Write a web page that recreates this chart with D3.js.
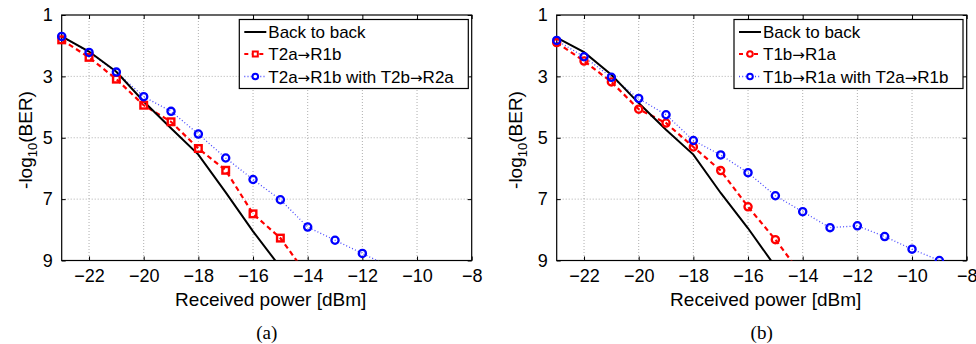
<!DOCTYPE html>
<html><head><meta charset="utf-8">
<script src="https://cdn.jsdelivr.net/npm/d3@7"></script>
<style>
html,body{margin:0;padding:0;background:#fff;}
svg{display:block;}
</style></head>
<body>
<svg id="chart" width="976" height="344" font-family="Liberation Sans, Arial, Helvetica, sans-serif"></svg>
<script>
// ---- data ----
const xTicks = [-22, -20, -18, -16, -14, -12, -10, -8];
const yTicks = [1, 3, 5, 7, 9];

// panel (a)
const powerA_b2b  = [-23, -22, -21, -20, -19, -18, -17, -16, -15];
const berA_b2b    = [1.70, 2.19, 2.85, 3.82, 4.69, 5.55, 6.78, 8.05, 9.22];
const powerA_red  = [-23, -22, -21, -20, -19, -18, -17, -16, -15, -14];
const berA_red    = [1.81, 2.38, 3.09, 3.94, 4.48, 5.35, 6.06, 7.48, 8.27, 9.50];
const powerA_blue = [-23, -22, -21, -20, -19, -18, -17, -16, -15, -14, -13, -12, -11];
const berA_blue   = [1.70, 2.22, 2.86, 3.66, 4.14, 4.88, 5.66, 6.36, 7.02, 7.91, 8.34, 8.77, 9.20];
const legendA = [["Back to back"], ["T2a", "R1b"], ["T2a", "R1b with T2b", "R2a"]];

// panel (b)
const powerB_b2b  = [-23, -22, -21, -20, -19, -18, -17, -16, -15];
const berB_b2b    = [1.74, 2.21, 2.95, 3.87, 4.74, 5.55, 6.80, 7.95, 9.20];
const powerB_red  = [-23, -22, -21, -20, -19, -18, -17, -16, -15, -14];
const berB_red    = [1.90, 2.50, 3.18, 4.07, 4.52, 5.30, 6.07, 7.25, 8.32, 9.51];
const powerB_blue = [-23, -22, -21, -20, -19, -18, -17, -16, -15, -14, -13, -12, -11, -10, -9];
const berB_blue   = [1.83, 2.36, 3.03, 3.72, 4.25, 5.09, 5.56, 6.14, 6.89, 7.41, 7.93, 7.87, 8.22, 8.63, 9.00];
const legendB = [["Back to back"], ["T1b", "R1a"], ["T1b", "R1a with T2a", "R1b"]];

const svg = d3.select("#chart");
const defs = svg.append("defs");

function zip(xs, ys){ return xs.map((x,i)=>({x:x, y:ys[i]})); }

function panel(cfg){
  const L = cfg.left, T = 15, W = 410, H = 245.5;
  const x = d3.scaleLinear().domain([-23, -8]).range([L, L+W]);
  const y = d3.scaleLinear().domain([1, 9]).range([T, T+H]);
  const g = svg.append("g");
  const clipId = "clip" + cfg.id;
  defs.append("clipPath").attr("id", clipId)
    .append("rect").attr("x", L-6).attr("y", T-6).attr("width", W+12).attr("height", H+6);
  defs.append("clipPath").attr("id", clipId+"pt")
    .append("rect").attr("x", L-6).attr("y", T-6).attr("width", W+12).attr("height", H+6.5);

  // grid
  g.append("g").selectAll("line").data(xTicks.filter(d=>d>-23 && d<-8)).join("line")
    .attr("x1", d=>x(d)).attr("x2", d=>x(d)).attr("y1", T).attr("y2", T+H)
    .attr("stroke", "#9a9a9a").attr("stroke-width", 0.8).attr("stroke-dasharray", "1,2");
  g.append("g").selectAll("line").data(yTicks.filter(d=>d>1 && d<9)).join("line")
    .attr("y1", d=>y(d)).attr("y2", d=>y(d)).attr("x1", L).attr("x2", L+W)
    .attr("stroke", "#9a9a9a").attr("stroke-width", 0.8).attr("stroke-dasharray", "1,2");

  // axes via d3 axis
  const axB = d3.axisBottom(x).tickValues(xTicks).tickSizeInner(-4).tickSizeOuter(0).tickPadding(8.5)
      .tickFormat(d=>String(d).replace("-", "\u2212"));
  const gB = g.append("g").attr("transform", `translate(0,${T+H})`).call(axB);
  gB.select(".domain").remove();
  gB.selectAll("line").attr("stroke", "#000");
  gB.selectAll("text").attr("font-size", 18).attr("fill", "#000").attr("font-family", "Liberation Sans, Arial, sans-serif");
  const axT = d3.axisTop(x).tickValues(xTicks).tickSizeInner(-4).tickSizeOuter(0).tickFormat("");
  const gT = g.append("g").attr("transform", `translate(0,${T})`).call(axT);
  gT.select(".domain").remove(); gT.selectAll("line").attr("stroke", "#000");

  const axL = d3.axisLeft(y).tickValues(yTicks).tickSizeInner(-4).tickSizeOuter(0).tickPadding(9);
  const gL = g.append("g").attr("transform", `translate(${L},0)`).call(axL);
  gL.select(".domain").remove();
  gL.selectAll("line").attr("stroke", "#000");
  gL.selectAll("text").attr("font-size", 18).attr("fill", "#000").attr("font-family", "Liberation Sans, Arial, sans-serif");
  const axR = d3.axisRight(y).tickValues(yTicks).tickSizeInner(-4).tickSizeOuter(0).tickFormat("");
  const gR = g.append("g").attr("transform", `translate(${L+W},0)`).call(axR);
  gR.select(".domain").remove(); gR.selectAll("line").attr("stroke", "#000");

  // box
  g.append("rect").attr("x", L).attr("y", T).attr("width", W).attr("height", H)
    .attr("fill", "none").attr("stroke", "#000").attr("stroke-width", 1.2);

  // data
  const line = d3.line().x(d=>x(d.x)).y(d=>y(d.y));
  const dg = g.append("g").attr("clip-path", `url(#${clipId})`);
  const blk = zip(cfg.b2b[0], cfg.b2b[1]);
  const red = zip(cfg.red[0], cfg.red[1]);
  const blu = zip(cfg.blue[0], cfg.blue[1]);

  dg.append("path").datum(blu).attr("d", line).attr("fill","none")
    .attr("stroke","#4a4aff").attr("stroke-width",1.3).attr("stroke-dasharray","1,2.2");
  dg.append("path").datum(red).attr("d", line).attr("fill","none")
    .attr("stroke","#ff0000").attr("stroke-width",2.2).attr("stroke-dasharray","5,3.5");
  dg.append("path").datum(blk).attr("d", line).attr("fill","none")
    .attr("stroke","#000").attr("stroke-width",2);

  const ptClip = g.append("g").attr("clip-path", `url(#${clipId}pt)`);
  const redPts = red.filter(d=>d.y<=9.05);
  if (cfg.redMarker === "square") {
    ptClip.selectAll(".rs").data(redPts).join("rect")
      .attr("x", d=>x(d.x)-3.3).attr("y", d=>y(d.y)-3.3).attr("width",6.6).attr("height",6.6)
      .attr("fill","none").attr("stroke","#ff0000").attr("stroke-width",2.4);
  } else {
    ptClip.selectAll(".rc").data(redPts).join("circle")
      .attr("cx", d=>x(d.x)).attr("cy", d=>y(d.y)).attr("r",3.6)
      .attr("fill","none").attr("stroke","#ff0000").attr("stroke-width",2.3);
  }
  ptClip.selectAll(".bc").data(blu.filter(d=>d.y<=9.05)).join("circle")
    .attr("cx", d=>x(d.x)).attr("cy", d=>y(d.y)).attr("r",3.6)
    .attr("fill","none").attr("stroke","#0000ff").attr("stroke-width",2.3);

  // legend
  const lx = cfg.legX, ly = 19.5, lw = cfg.legW, lh = 69;
  const lg = g.append("g");
  lg.append("rect").attr("x", lx).attr("y", ly).attr("width", lw).attr("height", lh)
    .attr("fill","#fff").attr("stroke","#000").attr("stroke-width",1.2);
  const rows = [ly+12.5, ly+34.5, ly+57];
  const sx1 = lx+5, sx2 = lx+27, sm = (sx1+sx2)/2;
  lg.append("line").attr("x1",sx1).attr("x2",sx2).attr("y1",rows[0]).attr("y2",rows[0])
    .attr("stroke","#000").attr("stroke-width",2);
  lg.append("line").attr("x1",sx1).attr("x2",sx2).attr("y1",rows[1]).attr("y2",rows[1])
    .attr("stroke","#ff0000").attr("stroke-width",2.2).attr("stroke-dasharray","4,3.5");
  if (cfg.redMarker === "square") {
    lg.append("rect").attr("x",sm-2.5).attr("y",rows[1]-2.5).attr("width",5).attr("height",5)
      .attr("fill","#fff").attr("stroke","#ff0000").attr("stroke-width",2);
  } else {
    lg.append("circle").attr("cx",sm).attr("cy",rows[1]).attr("r",2.8)
      .attr("fill","#fff").attr("stroke","#ff0000").attr("stroke-width",2);
  }
  lg.append("line").attr("x1",sx1).attr("x2",sx2).attr("y1",rows[2]).attr("y2",rows[2])
    .attr("stroke","#4a4aff").attr("stroke-width",1.3).attr("stroke-dasharray","1,2.2");
  lg.append("circle").attr("cx",sm).attr("cy",rows[2]).attr("r",2.8)
    .attr("fill","#fff").attr("stroke","#0000ff").attr("stroke-width",2);
  cfg.legend.forEach((parts, i) => {
    const t = lg.append("text").attr("x", lx+29).attr("y", rows[i]+6).attr("font-size",17).attr("fill","#000");
    parts.forEach((p, j) => {
      if (j > 0) t.append("tspan").attr("font-family","DejaVu Sans, sans-serif").attr("font-size",15).text("\u2192");
      t.append("tspan").text(p);
    });
  });

  // axis labels
  g.append("text").attr("x", L+W/2+4).attr("y", 306).attr("text-anchor","middle")
    .attr("font-size",19).attr("fill","#000").text("Received power [dBm]");
  const yl = g.append("text").attr("transform", `translate(${cfg.yLabX},140) rotate(-90)`)
    .attr("text-anchor","middle").attr("font-size",19).attr("fill","#000");
  yl.append("tspan").text("-log");
  yl.append("tspan").attr("font-size",13).attr("dy",5).text("10");
  yl.append("tspan").attr("dy",-5).text("(BER)");
  g.append("text").attr("x", L+W/2).attr("y", 339).attr("text-anchor","middle")
    .attr("font-size",19).attr("font-family","Liberation Serif, Times New Roman, serif")
    .attr("fill","#000").text(cfg.caption);
}

panel({id:"a", left:61.7, b2b:[powerA_b2b, berA_b2b], red:[powerA_red, berA_red], blue:[powerA_blue, berA_blue],
       redMarker:"square", legend:legendA, legX:239.3, legW:229, yLabX:32, caption:"(a)"});
panel({id:"b", left:556.7, b2b:[powerB_b2b, berB_b2b], red:[powerB_red, berB_red], blue:[powerB_blue, berB_blue],
       redMarker:"circle", legend:legendB, legX:734, legW:229, yLabX:522, caption:"(b)"});
</script>
</body></html>
